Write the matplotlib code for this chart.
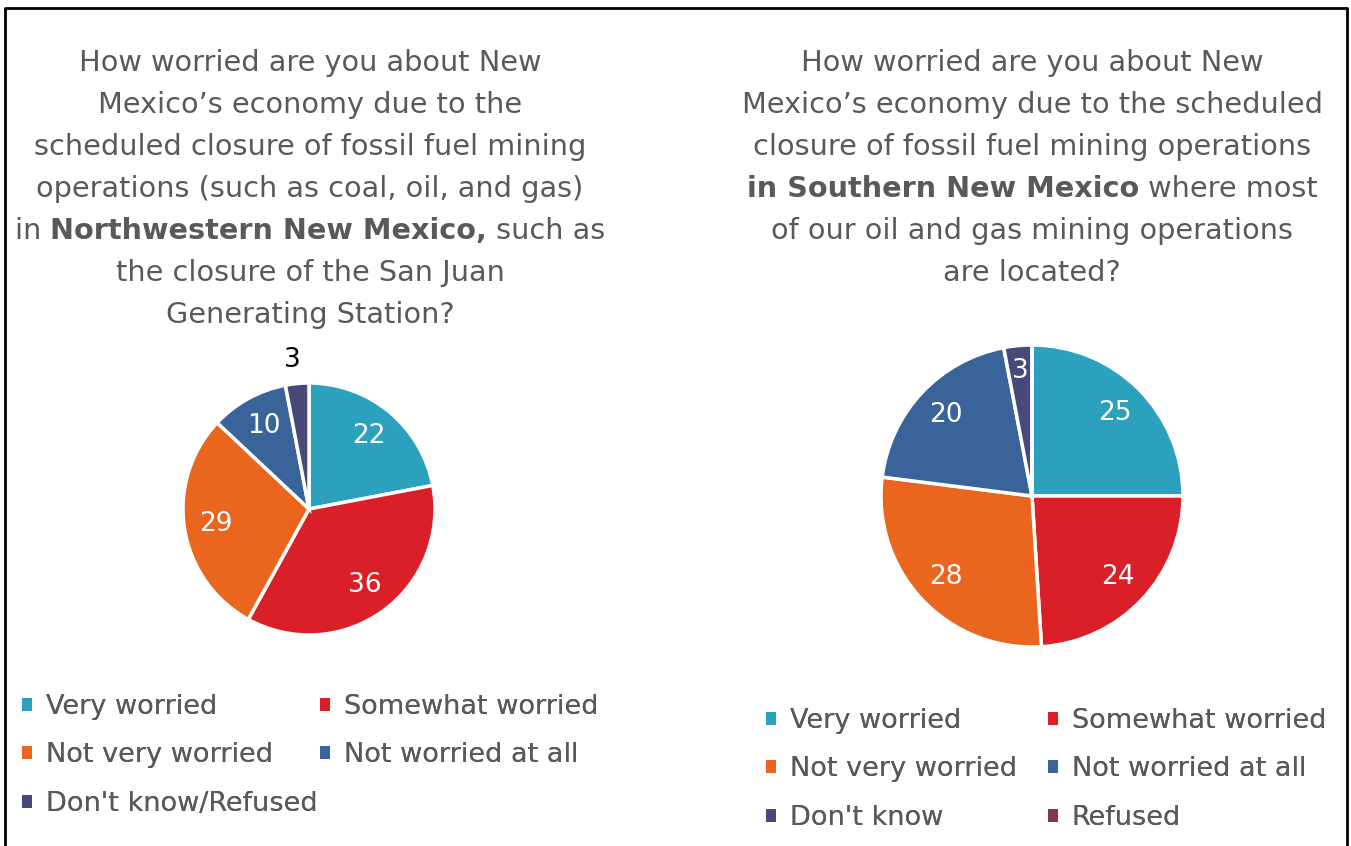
import matplotlib
matplotlib.use("Agg")
import matplotlib.pyplot as plt
from matplotlib.patches import Patch
from matplotlib.lines import Line2D

plt.rcParams['font.family'] = ['DejaVu Sans']

# data
cats_left = ["Very worried", "Somewhat worried", "Not very worried",
             "Not worried at all", "Don't know/Refused"]
vals_left = [22, 36, 29, 10, 3]
cols_left = ["#2CA1BE", "#DA1F28", "#EA661E", "#3A6399", "#474A78"]

cats_right = ["Very worried", "Somewhat worried", "Not very worried",
              "Not worried at all", "Don't know", "Refused"]
vals_right = [25, 24, 28, 20, 3, 0]
cols_right = ["#2CA1BE", "#DA1F28", "#EA661E", "#3A6399", "#474A78", "#7E3A4A"]

title_left = [
    [("How worried are you about New", "normal")],
    [("Mexico\u2019s economy due to the", "normal")],
    [("scheduled closure of fossil fuel mining", "normal")],
    [("operations (such as coal, oil, and gas)", "normal")],
    [("in ", "normal"), ("Northwestern New Mexico,", "bold"), (" such as", "normal")],
    [("the closure of the San Juan", "normal")],
    [("Generating Station?", "normal")],
]
title_right = [
    [("How worried are you about New", "normal")],
    [("Mexico\u2019s economy due to the scheduled", "normal")],
    [("closure of fossil fuel mining operations", "normal")],
    [("in Southern New Mexico", "bold"), (" where most", "normal")],
    [("of our oil and gas mining operations", "normal")],
    [("are located?", "normal")],
]

W, H = 1351, 846
fig = plt.figure(figsize=(W / 100, H / 100), dpi=100)
grey = "#595959"
TFS = 20.7


def draw_title(lines, xc, y0, dy):
    r = fig.canvas.get_renderer()
    for i, segs in enumerate(lines):
        y = 1 - (y0 + i * dy) / H
        txts = []
        for s, w in segs:
            t = fig.text(0, y, s, fontsize=TFS, fontweight=w, color=grey,
                         va='center', ha='left')
            txts.append(t)
        widths = [t.get_window_extent(r).width for t in txts]
        x = xc - sum(widths) / 2
        for t, wd in zip(txts, widths):
            t.set_x(x / W)
            x += wd


def draw_pie(cx, cy, R, vals, cols, ldist):
    ax = fig.add_axes([(cx - R) / W, 1 - (cy + R) / H, 2 * R / W, 2 * R / H])
    wedges, texts = ax.pie(vals, colors=cols, startangle=90, counterclock=False,
                           labels=[str(v) if v > 0 else "" for v in vals],
                           labeldistance=ldist,
                           wedgeprops=dict(edgecolor='white', linewidth=2.5),
                           textprops=dict(color='white', fontsize=19))
    for t in texts:
        t.set_ha('center')
        t.set_va('center')
    ax.set_xlim(-1, 1)
    ax.set_ylim(-1, 1)
    ax.axis('off')
    return ax, wedges, texts


# left pie
axl, wl, tl = draw_pie(309, 509, 126, vals_left, cols_left, 0.75)
tl[4].set_position((-0.13, 1.18))
tl[4].set_color('black')

# right pie
axr, wr, tr = draw_pie(1032, 496, 151, vals_right, cols_right, 0.78)
tr[4].set_position((-0.08, 0.83))

draw_title(title_left, 310, 63, 42)
draw_title(title_right, 1032, 63, 42)


def legend_col(cats, cols, idx, x, y):
    handles = [Patch(facecolor=cols[i], edgecolor='none') for i in idx]
    labels = [cats[i] for i in idx]
    leg = fig.legend(handles, labels, loc='upper left',
                     bbox_to_anchor=(x / W, 1 - y / H), frameon=False,
                     fontsize=19.5, labelcolor=grey, handlelength=0.38,
                     handleheight=0.38, handletextpad=0.5,
                     labelspacing=0.83, borderaxespad=0, borderpad=0)
    fig.add_artist(leg)
    return leg


legend_col(cats_left, cols_left, [0, 2, 4], 22, 694)
legend_col(cats_left, cols_left, [1, 3], 320, 694)
legend_col(cats_right, cols_right, [0, 2, 4], 766, 708)
legend_col(cats_right, cols_right, [1, 3, 5], 1048, 708)

# border
bx0, bx1, by = 5 / W, 1347 / W, 1 - 8 / H
fig.add_artist(Line2D([bx0, bx0, bx1, bx1], [-0.01, by, by, -0.01],
                      color='black', linewidth=2, transform=fig.transFigure))

fig.savefig("out.png", dpi=100)
